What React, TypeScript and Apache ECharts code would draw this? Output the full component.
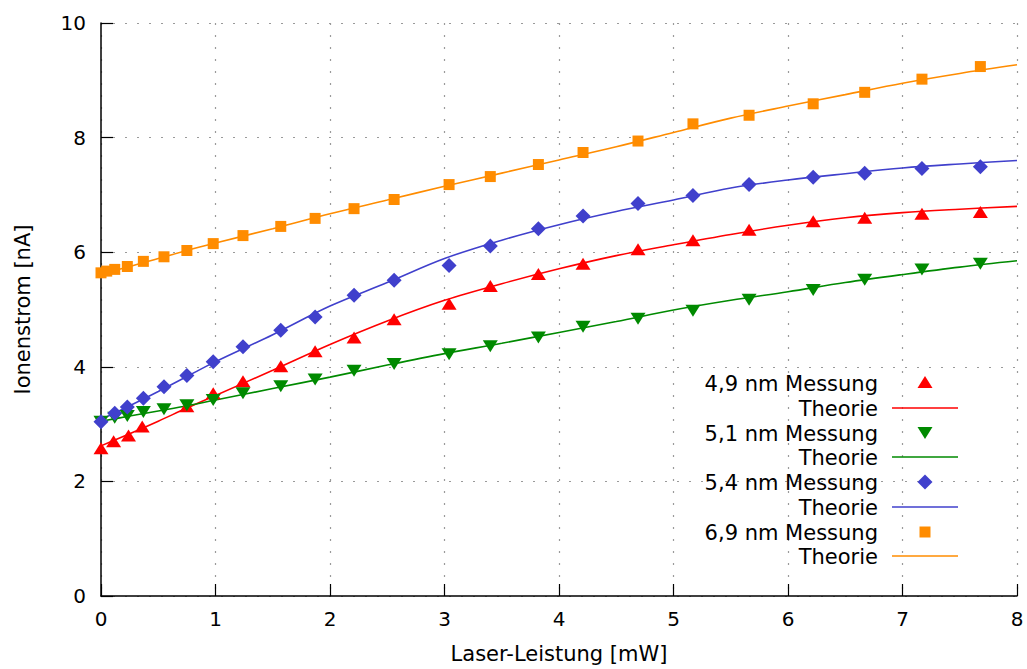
import React, { useEffect, useRef } from "react";
import * as echarts from "echarts";

// ---- Data ----
const xTicks = [0, 1, 2, 3, 4, 5, 6, 7, 8];
const yTicks = [0, 2, 4, 6, 8, 10];

const measX = [0, 0.12, 0.23, 0.37, 0.55, 0.75, 0.98, 1.24, 1.57, 1.87, 2.21, 2.56, 3.04, 3.40, 3.82, 4.21, 4.69, 5.17, 5.66, 6.22, 6.67, 7.17, 7.68];

const m49X = [0, 0.11, 0.24, 0.36, 0.75, 0.98, 1.24, 1.57, 1.87, 2.21, 2.56, 3.04, 3.40, 3.82, 4.21, 4.69, 5.17, 5.66, 6.22, 6.67, 7.17, 7.68];
const m49Y = [2.58, 2.70, 2.80, 2.96, 3.31, 3.54, 3.75, 4.01, 4.27, 4.51, 4.83, 5.10, 5.41, 5.62, 5.80, 6.05, 6.21, 6.39, 6.54, 6.60, 6.67, 6.70];

const m51Y = [3.04, 3.11, 3.14, 3.21, 3.26, 3.33, 3.42, 3.54, 3.66, 3.78, 3.93, 4.05, 4.22, 4.36, 4.51, 4.70, 4.84, 4.98, 5.17, 5.34, 5.52, 5.70, 5.80];

const m54Y = [3.04, 3.19, 3.30, 3.45, 3.65, 3.85, 4.09, 4.35, 4.64, 4.87, 5.25, 5.51, 5.77, 6.11, 6.41, 6.63, 6.85, 6.99, 7.18, 7.31, 7.38, 7.46, 7.49];

const m69X = [0, 0.05, 0.12, 0.23, 0.37, 0.55, 0.75, 0.98, 1.24, 1.57, 1.87, 2.21, 2.56, 3.04, 3.40, 3.82, 4.21, 4.69, 5.17, 5.66, 6.22, 6.67, 7.17, 7.68];
const m69Y = [5.64, 5.67, 5.70, 5.75, 5.84, 5.92, 6.03, 6.15, 6.29, 6.45, 6.59, 6.76, 6.92, 7.18, 7.32, 7.53, 7.74, 7.94, 8.24, 8.39, 8.59, 8.79, 9.02, 9.24];

const theoryX = [0, 0.25, 0.5, 0.75, 1, 1.5, 2, 2.5, 3, 3.5, 4, 4.5, 5, 5.5, 6, 6.5, 7, 7.5, 8];
const t49Y = [2.62, 2.83, 3.05, 3.28, 3.50, 3.94, 4.39, 4.80, 5.16, 5.45, 5.71, 5.94, 6.13, 6.31, 6.47, 6.60, 6.69, 6.75, 6.80];
const t51Y = [3.05, 3.14, 3.23, 3.32, 3.42, 3.62, 3.82, 4.03, 4.23, 4.41, 4.60, 4.79, 4.99, 5.16, 5.31, 5.47, 5.61, 5.74, 5.85];
const t54Y = [3.08, 3.32, 3.57, 3.83, 4.09, 4.56, 5.06, 5.47, 5.89, 6.21, 6.48, 6.71, 6.91, 7.12, 7.26, 7.37, 7.47, 7.54, 7.60];
const t69Y = [5.62, 5.75, 5.89, 6.03, 6.16, 6.41, 6.67, 6.91, 7.15, 7.38, 7.61, 7.84, 8.09, 8.34, 8.55, 8.75, 8.95, 9.12, 9.27];

const legendLabels = ["4,9 nm Messung", "Theorie", "5,1 nm Messung", "Theorie", "5,4 nm Messung", "Theorie", "6,9 nm Messung", "Theorie"];

const RED = "#ff0000";
const GREEN = "#008a00";
const BLUE = "#4040cc";
const ORANGE = "#ff8c00";
const FONT = "DejaVu Sans";

const zip = (xs: number[], ys: number[]) => xs.map((x, i) => [x, ys[i]]);

export default function App() {
  const ref = useRef<HTMLDivElement>(null);

  useEffect(() => {
    if (!ref.current) return;
    const chart = echarts.init(ref.current, undefined, { renderer: "svg" });

    const axisCommon = {
      type: "value" as const,
      axisLine: { show: true, onZero: false, lineStyle: { color: "#000", width: 1.5 } },
      axisTick: { show: true, inside: true, length: 12, lineStyle: { color: "#000", width: 1.2 } },
      splitLine: { show: true, lineStyle: { type: [2, 10], color: "#9a9a9a", width: 1.2 } },
      nameLocation: "middle" as const,
      nameTextStyle: { fontFamily: FONT, fontSize: 21, color: "#000" },
    };

    const lineSeries = (name: string, ys: number[], color: string) => ({
      name,
      type: "line",
      data: zip(theoryX, ys),
      smooth: 0.35,
      symbol: "none",
      lineStyle: { color, width: 1.6 },
      z: 2,
    });

    const scatterSeries = (name: string, xs: number[], ys: number[], color: string, symbol: string, size: any, rotate = 0) => ({
      name,
      type: "scatter",
      data: zip(xs, ys),
      symbol,
      symbolSize: size,
      symbolRotate: rotate,
      itemStyle: { color, opacity: 1 },
      z: 3,
    });

    // legend drawn with graphic elements
    const textRight = 878;
    const symX = 925;
    const rowY = [383, 408, 433, 457, 482, 507, 532, 556];
    const graphics: any[] = [];
    legendLabels.forEach((label, i) => {
      graphics.push({
        type: "text",
        x: textRight,
        y: rowY[i] + 1,
        style: { text: label, fontFamily: FONT, fontSize: 21, fill: "#000", align: "right", verticalAlign: "middle" },
        z: 10,
      });
    });
    const lineColors = [RED, GREEN, BLUE, ORANGE];
    lineColors.forEach((c, k) => {
      graphics.push({
        type: "line",
        shape: { x1: 892, y1: rowY[2 * k + 1], x2: 958, y2: rowY[2 * k + 1] },
        style: { stroke: c, lineWidth: 1.6 },
        z: 10,
      });
    });
    const y0 = rowY[0] - 1;
    graphics.push({
      type: "polygon",
      shape: { points: [[symX - 7.5, y0 + 6], [symX + 7.5, y0 + 6], [symX, y0 - 6]] },
      style: { fill: RED },
      z: 10,
    });
    const y1 = rowY[2];
    graphics.push({
      type: "polygon",
      shape: { points: [[symX - 7.5, y1 - 6], [symX + 7.5, y1 - 6], [symX, y1 + 6]] },
      style: { fill: GREEN },
      z: 10,
    });
    const y2 = rowY[4];
    graphics.push({
      type: "polygon",
      shape: { points: [[symX, y2 - 7.5], [symX + 7.5, y2], [symX, y2 + 7.5], [symX - 7.5, y2]] },
      style: { fill: BLUE },
      z: 10,
    });
    const y3 = rowY[6];
    graphics.push({
      type: "rect",
      shape: { x: symX - 5.5, y: y3 - 5.5, width: 11, height: 11 },
      style: { fill: ORANGE },
      z: 10,
    });

    chart.setOption({
      animation: false,
      backgroundColor: "#fff",
      grid: { left: 101, right: 10, top: 23, bottom: 72, containLabel: false },
      xAxis: {
        ...axisCommon,
        min: xTicks[0],
        max: xTicks[xTicks.length - 1],
        interval: 1,
        name: "Laser-Leistung [mW]",
        nameGap: 47,
        axisLabel: { margin: 13, fontFamily: FONT, fontSize: 20, color: "#000" },
      },
      yAxis: {
        ...axisCommon,
        min: yTicks[0],
        max: yTicks[yTicks.length - 1],
        interval: 2,
        name: "Ionenstrom [nA]",
        nameGap: 68,
        axisLabel: { margin: 15, fontFamily: FONT, fontSize: 20, color: "#000" },
      },
      series: [
        lineSeries("Theorie 4,9", t49Y, RED),
        lineSeries("Theorie 5,1", t51Y, GREEN),
        lineSeries("Theorie 5,4", t54Y, BLUE),
        lineSeries("Theorie 6,9", t69Y, ORANGE),
        scatterSeries("4,9 nm Messung", m49X, m49Y, RED, "triangle", [15, 12]),
        scatterSeries("5,1 nm Messung", measX, m51Y, GREEN, "triangle", [15, 12], 180),
        scatterSeries("5,4 nm Messung", measX, m54Y, BLUE, "diamond", [15, 15]),
        scatterSeries("6,9 nm Messung", m69X, m69Y, ORANGE, "rect", [11, 11]),
      ],
      graphic: graphics,
    });

    return () => chart.dispose();
  }, []);

  return (
    <div
      ref={ref}
      style={{ position: "absolute", left: 0, top: 0, width: 1027, height: 669, background: "#fff" }}
    />
  );
}
